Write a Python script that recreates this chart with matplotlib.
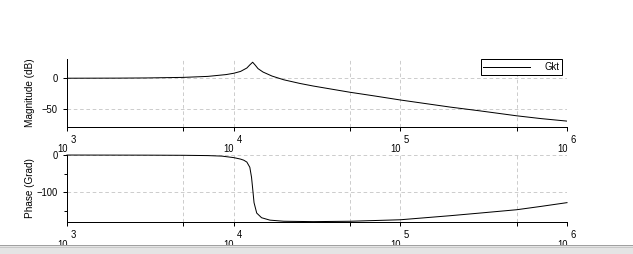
import matplotlib
matplotlib.use("Agg")
import matplotlib.pyplot as plt
import matplotlib.ticker as mticker
from matplotlib.patches import Rectangle
from matplotlib.lines import Line2D

# ---- data ----
freq_mag = [1000, 2000, 3000, 5000, 7000, 9000, 10000, 11000, 12000, 12500,
            13000, 13500, 14000, 15000, 17000, 20000, 25000, 30000, 40000,
            50000, 70000, 100000, 200000, 300000, 500000, 700000, 1000000]
mag_db = [0.05, 0.2, 0.5, 1.4, 3.0, 5.9, 8.0, 11.0, 16.5, 21.5,
          25.8, 20.8, 15.5, 10.0, 3.5, -2.5, -8.4, -12.5, -18.2,
          -22.6, -28.5, -35.0, -46.5, -52.5, -60.5, -65.0, -69.0]

freq_ph = [1000, 3000, 5000, 7000, 8500, 10000, 11000, 11500, 12000, 12500,
           12800, 13000, 13250, 13750, 14700, 16500, 20000, 30000, 50000,
           100000, 200000, 300000, 500000, 700000, 1000000]
phase_deg = [-0.1, -0.4, -0.8, -1.6, -3.0, -7.0, -11.0, -14.0, -19.0, -33.0,
             -60.0, -90.0, -128.0, -156.0, -168.5, -175.0, -178.0, -179.0, -178.0,
             -174.0, -163.0, -156.0, -147.0, -138.0, -128.0]

series_name = "Gkt"
decades = [1e3, 1e4, 1e5, 1e6]
decade_exp = ["3", "4", "5", "6"]
minor_x = [5e3, 5e4, 5e5]

W, H = 633, 254
DPI = 72
plt.rcParams['font.family'] = ['Liberation Sans', 'DejaVu Sans']
fig = plt.figure(figsize=(W / DPI, H / DPI), dpi=DPI, facecolor='white')

def px_axes(left, top, right, bottom):
    return fig.add_axes([left / W, 1 - bottom / H, (right - left) / W, (bottom - top) / H])

ax1 = px_axes(67, 59, 567, 127)
ax2 = px_axes(67, 155, 567, 222)

grid_kw = dict(color='#c8c8c8', linestyle=(0, (4, 3)), linewidth=0.9)

def style(ax):
    ax.set_xscale('log')
    ax.set_xlim(1e3, 1e6)
    for s in ['top', 'right']:
        ax.spines[s].set_visible(False)
    for s in ['left', 'bottom']:
        ax.spines[s].set_linewidth(1.0)
        ax.spines[s].set_color('black')
    ax.xaxis.set_major_locator(mticker.FixedLocator(decades))
    ax.xaxis.set_minor_locator(mticker.FixedLocator(minor_x))
    ax.xaxis.set_major_formatter(mticker.NullFormatter())
    ax.xaxis.set_minor_formatter(mticker.NullFormatter())
    ax.tick_params(axis='x', which='both', direction='out', length=4, width=1, color='black')
    ax.tick_params(axis='y', which='major', direction='out', length=4, width=1,
                   color='black', labelsize=9.5, pad=5)
    ax.tick_params(axis='y', which='minor', direction='out', length=3, width=1, color='black')
    for x in decades[1:] + minor_x:
        ax.axvline(x, zorder=0, **grid_kw)
    trans = ax.get_xaxis_transform()
    for x, e in zip(decades, decade_exp):
        ax.annotate("10", xy=(x, 0), xycoords=trans, xytext=(0.5, -22.5),
                    textcoords='offset pixels', ha='right', va='center', fontsize=9.5,
                    annotation_clip=False)
        ax.annotate(e, xy=(x, 0), xycoords=trans, xytext=(3.5, -13),
                    textcoords='offset pixels', ha='left', va='center', fontsize=9.5,
                    annotation_clip=False)

style(ax1)
style(ax2)

# magnitude
ax1.plot(freq_mag, mag_db, color='black', linewidth=1.0, label=series_name, zorder=3)
ax1.set_ylim(-78.5, 31)
ax1.set_yticks([0, -50])
for y in [0, -50]:
    ax1.axhline(y, zorder=0, **grid_kw)
ax1.set_ylabel("Magnitude (dB)", fontsize=10)

leg = ax1.legend(loc='upper right', bbox_to_anchor=(562 / W, 1 - 59 / H),
                 bbox_transform=fig.transFigure, fontsize=9.5, frameon=True,
                 fancybox=False, edgecolor='black', framealpha=1, borderpad=0.3,
                 handlelength=4.9, handletextpad=1.5, borderaxespad=0)
leg.get_frame().set_linewidth(1.0)

# phase
ax2.plot(freq_ph, phase_deg, color='black', linewidth=1.0, zorder=3, clip_on=False)
ax2.set_ylim(-180, 0)
ax2.set_yticks([0, -100])
ax2.yaxis.set_minor_locator(mticker.FixedLocator([-50, -150]))
for y in [0, -100]:
    ax2.axhline(y, zorder=0, **grid_kw)
ax2.set_ylabel("Phase (Grad)", fontsize=10)

label_x = -(67 - 35) / 500
ax1.yaxis.set_label_coords(label_x, 0.5)
ax2.yaxis.set_label_coords(label_x, 0.5)

# bottom status bar
fig.patches.append(Rectangle((0, 0), 1, 9 / H, transform=fig.transFigure,
                             facecolor='#e4e4e4', edgecolor='none', zorder=10))
fig.lines.append(Line2D([0, 1], [9 / H, 9 / H], transform=fig.transFigure,
                        color='#a0a0a0', linewidth=1, zorder=11))
fig.lines.append(Line2D([0, 1], [7 / H, 7 / H], transform=fig.transFigure,
                        color='#c8c8c8', linewidth=1, zorder=11))

fig.savefig("out.png", dpi=DPI, facecolor='white')
